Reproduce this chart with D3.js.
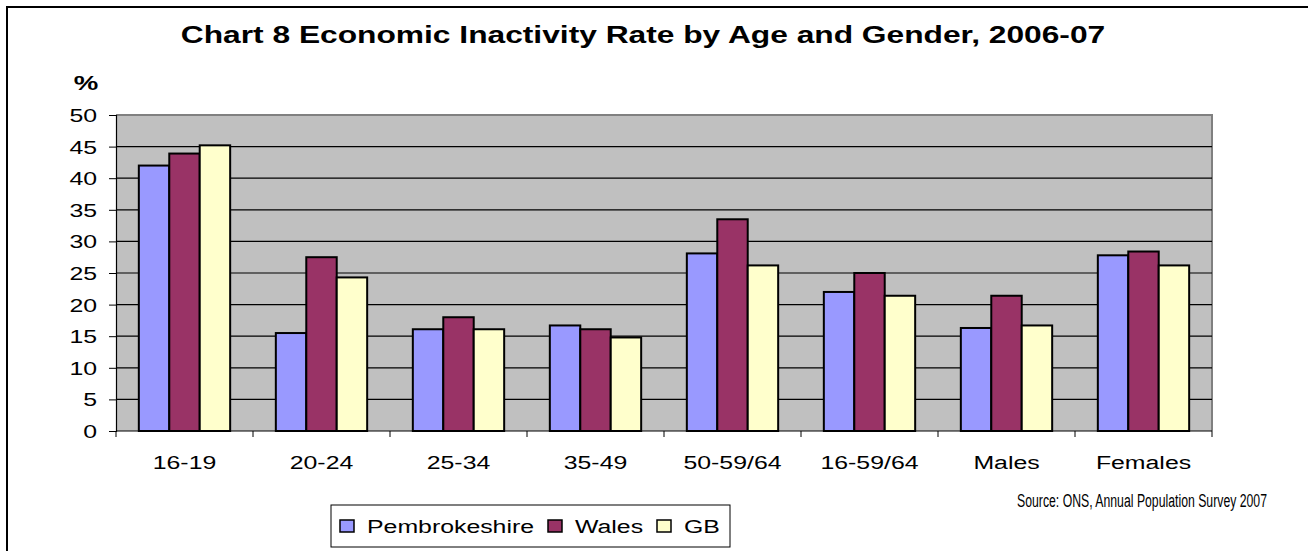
<!DOCTYPE html>
<html>
<head>
<meta charset="utf-8">
<script src="https://d3js.org/d3.v7.min.js"></script>
<style>
  body { margin: 0; background: #fff; }
  svg text { font-family: "Liberation Sans", Arial, sans-serif; fill: #000; }
</style>
</head>
<body>
<svg id="chart" width="1308" height="551"></svg>
<script>
// data
var categories = ["16-19", "20-24", "25-34", "35-49", "50-59/64", "16-59/64", "Males", "Females"];
var seriesNames = ["Pembrokeshire", "Wales", "GB"];
var pembrokeshire = [42.0, 15.5, 16.1, 16.7, 28.1, 22.0, 16.3, 27.8];
var wales = [43.9, 27.5, 18.0, 16.1, 33.5, 25.0, 21.4, 28.4];
var gb = [45.2, 24.3, 16.1, 14.8, 26.2, 21.4, 16.7, 26.2];
var yTicks = [0, 5, 10, 15, 20, 25, 30, 35, 40, 45, 50];
var colors = ["#9999FF", "#993366", "#FFFFCC"];

var series = [pembrokeshire, wales, gb];

var svg = d3.select("#chart");
var plotLeft = 116, plotRight = 1212, plotTop = 115, plotBottom = 431;
// the original picture is stretched sideways, so text is too
var K = 1.38;

function label(parent, x, y, str, size, anchor, bold) {
  return parent.append("text")
    .attr("transform", "translate(" + x + "," + y + ") scale(" + K + ",1)")
    .attr("text-anchor", anchor || "start")
    .style("font-size", size + "px")
    .style("font-weight", bold ? "bold" : "normal")
    .text(str);
}

// outer frame
svg.append("rect")
  .attr("x", 7).attr("y", 7).attr("width", 1320).attr("height", 560)
  .attr("fill", "#fff").attr("stroke", "#000").attr("stroke-width", 2);

label(svg, 643, 43, "Chart 8 Economic Inactivity Rate by Age and Gender, 2006-07", 23, "middle", true);
label(svg, 86, 90, "%", 20, "middle", true);

var x0 = d3.scaleBand().domain(categories).range([plotLeft, plotRight])
  .paddingInner(1 / 3).paddingOuter(1 / 6);
var x1 = d3.scaleBand().domain(seriesNames).range([0, x0.bandwidth()]);
var y = d3.scaleLinear().domain([0, 50]).range([plotBottom, plotTop]);

// plot area
svg.append("rect")
  .attr("x", plotLeft).attr("y", plotTop)
  .attr("width", plotRight - plotLeft).attr("height", plotBottom - plotTop)
  .attr("fill", "#C0C0C0");
svg.append("path")
  .attr("d", "M" + plotLeft + "," + plotTop + "H" + plotRight + "V" + plotBottom)
  .attr("fill", "none").attr("stroke", "#808080").attr("stroke-width", 2);

// gridlines
svg.append("g").selectAll("line")
  .data(yTicks.filter(function(d) { return d > 0 && d < 50; }))
  .join("line")
  .attr("x1", plotLeft).attr("x2", plotRight)
  .attr("y1", function(d) { return y(d); }).attr("y2", function(d) { return y(d); })
  .attr("stroke", "#000").attr("stroke-width", 1.2);

// bars
var groups = svg.append("g").selectAll("g")
  .data(categories)
  .join("g")
  .attr("transform", function(c) { return "translate(" + x0(c) + ",0)"; });

groups.selectAll("rect")
  .data(function(c, i) {
    return seriesNames.map(function(s, k) { return { s: s, k: k, v: series[k][i] }; });
  })
  .join("rect")
  .attr("x", function(d) { return x1(d.s); })
  .attr("y", function(d) { return y(d.v); })
  .attr("width", x1.bandwidth())
  .attr("height", function(d) { return y(0) - y(d.v); })
  .attr("fill", function(d) { return colors[d.k]; })
  .attr("stroke", "#000").attr("stroke-width", 2);

// y axis
var yAxis = svg.append("g")
  .attr("transform", "translate(" + plotLeft + ",0)")
  .call(d3.axisLeft(y).tickValues(yTicks).tickSize(7));
yAxis.select(".domain").attr("stroke", "#000").attr("stroke-width", 1.2);
yAxis.selectAll(".tick line").attr("stroke", "#000");
yAxis.selectAll(".tick text")
  .attr("x", -19 / K)
  .attr("dy", "0.36em")
  .attr("transform", "scale(" + K + ",1)")
  .style("font-size", "18px")
  .style("font-family", "'Liberation Sans', Arial, sans-serif")
  .attr("fill", "#000");

// x axis
var step = x0.step();
var edges = categories.map(function(c) { return x0(c) - (step - x0.bandwidth()) / 2; });
edges.push(plotRight);
svg.append("line")
  .attr("x1", plotLeft).attr("x2", plotRight).attr("y1", plotBottom).attr("y2", plotBottom)
  .attr("stroke", "#000").attr("stroke-width", 1.2);
svg.append("g").selectAll("line")
  .data(edges)
  .join("line")
  .attr("x1", function(d) { return d; }).attr("x2", function(d) { return d; })
  .attr("y1", plotBottom).attr("y2", plotBottom + 6)
  .attr("stroke", "#000");
var xLabels = svg.append("g");
categories.forEach(function(c) {
  label(xLabels, x0(c) + x0.bandwidth() / 2, 469, c, 18, "middle");
});

// source
svg.append("text")
  .attr("x", 1267).attr("y", 507)
  .attr("text-anchor", "end")
  .attr("textLength", 250).attr("lengthAdjust", "spacingAndGlyphs")
  .style("font-size", "18px")
  .text("Source: ONS, Annual Population Survey 2007");

// legend
var legend = svg.append("g");
legend.append("rect")
  .attr("x", 331).attr("y", 505).attr("width", 399).attr("height", 42)
  .attr("fill", "#fff").attr("stroke", "#000").attr("stroke-width", 1);
var legendX = [340, 548, 657];
seriesNames.forEach(function(s, i) {
  legend.append("rect")
    .attr("x", legendX[i]).attr("y", 520).attr("width", 14).attr("height", 12)
    .attr("fill", colors[i])
    .attr("stroke", "#000").attr("stroke-width", 1.5);
  label(legend, legendX[i] + 27, 533, s, 18, "start");
});
</script>
</body>
</html>
